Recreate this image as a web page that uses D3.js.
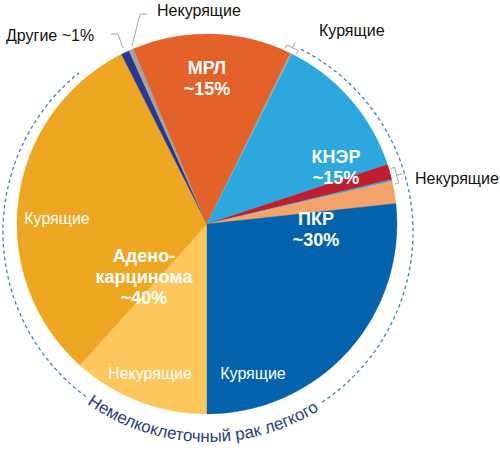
<!DOCTYPE html>
<html><head><meta charset="utf-8">
<script src="https://cdn.jsdelivr.net/npm/d3@7/dist/d3.min.js"></script>
<style>
body{margin:0;background:#fff}
svg{display:block}
text{font-family:"Liberation Sans",Arial,Helvetica,sans-serif}
</style>
</head><body>
<svg id="chart" width="500" height="464"></svg>
<script>
// ---- data (percent of all lung cancer), clockwise starting at 6 o'clock ----
const categories = [
  "Аденокарцинома: некурящие",
  "Аденокарцинома: курящие",
  "Другие",
  "МРЛ: некурящие",
  "МРЛ: курящие",
  "КНЭР: граница",
  "КНЭР: курящие",
  "КНЭР: некурящие",
  "КНЭР: прочие",
  "ПКР: некурящие",
  "ПКР: курящие"
];
const values = [11.7, 31.0, 0.7, 0.4, 13.6, 0.15, 12.6, 1.3, 0.15, 1.9, 26.8];
const colors = ["#FDC75E", "#EEA722", "#28388E", "#A3A3A3", "#E2622A", "#A3A3A3",
                "#2DA8DE", "#BE1E2D", "#2DA8DE", "#F4A46A", "#0563AD"];

const groupNames = ["МРЛ", "КНЭР", "ПКР", "Адено-|карцинома"];
const groupShares = ["~15%", "~15%", "~30%", "~40%"];
const subLabels = ["Курящие", "Некурящие", "Курящие"];
const outerLabels = ["Другие ~1%", "Некурящие", "Курящие", "Некурящие"];
const arcTitle = "Немелкоклеточный рак легкого";

// ---- layout ----
const cx = 207, cy = 224, R = 190;
const svg = d3.select("#chart");
const g = svg.append("g").attr("transform", `translate(${cx},${cy})`);

const pie = d3.pie().value(d => d.v).sort(null)
  .startAngle(Math.PI).endAngle(3 * Math.PI);
const arcs = pie(categories.map((c, i) => ({c, v: values[i], col: colors[i]})));
const arc = d3.arc().innerRadius(0).outerRadius(R);

g.selectAll("path.slice").data(arcs).join("path")
  .attr("class", "slice")
  .attr("d", arc)
  .attr("fill", d => d.data.col)
  .attr("stroke", d => d.data.col)
  .attr("stroke-width", 0.4);

const deg = Math.PI / 180;
const polar = (theta, r, ox = 0, oy = 0) => [ox + r * Math.sin(theta), oy - r * Math.cos(theta)];

// ---- dashed NSCLC arc ----
const dox = 1, doy = 8, dR = 205;
const dashSegs = [[27, 146.6], [216.6, 321]];
dashSegs.forEach(([a0, a1]) => {
  const p = d3.path();
  p.arc(dox, doy, dR, (a0 - 90) * deg, (a1 - 90) * deg, false);
  g.append("path").attr("d", p.toString())
    .attr("fill", "none").attr("stroke", "#3D7FC6")
    .attr("stroke-width", 1.3).attr("stroke-dasharray", "3.5,3");
});

// curved title
{
  const p = d3.path();
  const mid = 181.6, half = 70;
  const tr = 210;
  const a0 = (mid + half - 90) * deg, a1 = (mid - half - 90) * deg;
  p.moveTo(dox + tr * Math.cos(a0), doy + tr * Math.sin(a0));
  p.arc(dox, doy, tr, a0, a1, true);
  svg.append("defs").append("path").attr("id", "tp")
    .attr("d", p.toString()).attr("transform", `translate(${cx},${cy})`);
  svg.append("text").attr("font-size", 17).attr("fill", "#2B3F7F")
    .append("textPath").attr("href", "#tp")
    .attr("startOffset", "50%").attr("text-anchor", "middle")
    .text(arcTitle);
}

// ---- group labels (bold white) ----
const groupPos = [[207, 74], [336, 163], [316, 225], [144, 262]];
groupNames.forEach((name, i) => {
  const lines = name.split("|").concat([groupShares[i]]);
  const t = svg.append("text").attr("text-anchor", "middle")
    .attr("font-size", 18).attr("font-weight", "bold").attr("fill", "#fff");
  lines.forEach((ln, j) => {
    t.append("tspan").attr("x", groupPos[i][0]).attr("y", groupPos[i][1] + j * 21).text(ln);
  });
});

// ---- sub labels inside (white) ----
const subPos = [[57, 224], [150, 379], [253, 379]];
subLabels.forEach((s, i) => {
  svg.append("text").attr("x", subPos[i][0]).attr("y", subPos[i][1])
    .attr("text-anchor", "middle").attr("font-size", 16).attr("fill", "#fff").text(s);
});

// ---- outside labels (black) ----
const outerPos = [[6, 41], [157, 16], [319, 36], [415, 184]];
outerLabels.forEach((s, i) => {
  svg.append("text").attr("x", outerPos[i][0]).attr("y", outerPos[i][1])
    .attr("font-size", 16).attr("fill", "#111").text(s);
});

// ---- leader lines ----
const lineCol = "#A6A6A6";
const leaders = [
  [[111, 34], [118, 34], [123, 48]],
  [[147, 14], [140, 14], [132, 46]]
];
leaders.forEach(pts => {
  svg.append("path").attr("d", d3.line()(pts))
    .attr("fill", "none").attr("stroke", lineCol).attr("stroke-width", 1);
});

// brackets tangent to the pie edge
const brackets = [[24, 27.8], [73.2, 78]];
brackets.forEach(([a0, a1]) => {
  const t0 = a0 * deg, t1 = a1 * deg, tm = (t0 + t1) / 2;
  const pts = [polar(t0, R + 2), polar(t0, R + 6), polar(t1, R + 6), polar(t1, R + 2)];
  g.append("path").attr("d", d3.line()(pts))
    .attr("fill", "none").attr("stroke", lineCol).attr("stroke-width", 1);
  g.append("path").attr("d", d3.line()([polar(tm, R + 6), polar(tm, R + 12)]))
    .attr("fill", "none").attr("stroke", lineCol).attr("stroke-width", 1);
});
</script>
</body></html>
